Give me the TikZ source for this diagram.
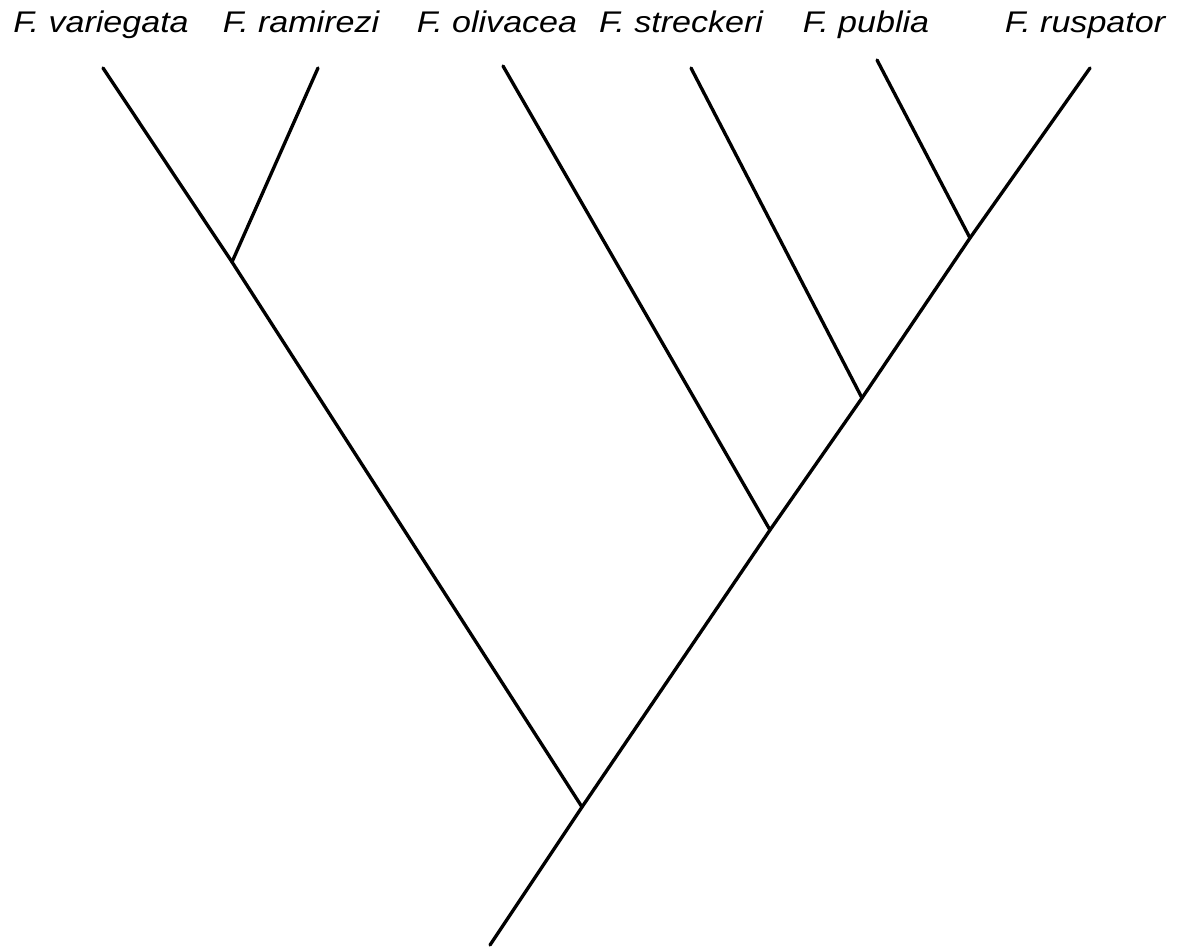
\documentclass[tikz,border=0pt]{standalone}
\usepackage{fontspec}
\setmainfont{Liberation Sans}[FakeStretch=1.14]
\usetikzlibrary{calc, positioning}

\begin{document}
\begin{tikzpicture}[x=0.02cm, y=-0.02cm,
    branch/.style={line width=1.9pt, line cap=round, line join=round},
    taxon/.style={font=\fontsize{17}{20}\selectfont\itshape, inner sep=0pt, anchor=base}]
          \useasboundingbox (0, 0) rectangle (1185, 949);

          % species labels
          \node[taxon] (variegata) at (101, 33) {F. variegata};
          \node[taxon] (ramirezi) at (301, 33) {F. ramirezi};
          \node[taxon] (olivacea) at (497, 33) {F. olivacea};
          \node[taxon] (streckeri) at (681, 33) {F. streckeri};
          \node[taxon] (publia) at (866, 33) {F. publia};
          \node[taxon] (ruspator) at (1085, 33) {F. ruspator};

          % tips
          \coordinate (tvar) at (103, 68);
          \coordinate (tram) at (318, 68);
          \coordinate (toli) at (503, 66);
          \coordinate (tstr) at (691, 68);
          \coordinate (tpub) at (877, 60);
          \coordinate (trus) at (1090, 68);

          % internal nodes
          \coordinate (nvr) at (232, 262);
          \coordinate (npr) at (970, 238);
          \coordinate (nspr) at (862, 398);
          \coordinate (nospr) at (770, 530);
          \coordinate (root) at (582, 807);
          \coordinate (stem) at (490, 945);

          \draw[branch] (tvar) -- (nvr) -- (root);
          \draw[branch] (tram) -- (nvr);
          \draw[branch] (toli) -- (nospr);
          \draw[branch] (tstr) -- (nspr);
          \draw[branch] (tpub) -- (npr);
          \draw[branch] (trus) -- (npr) -- (nspr) -- (nospr) -- (root) -- (stem);

      \end{tikzpicture}
\end{document}
